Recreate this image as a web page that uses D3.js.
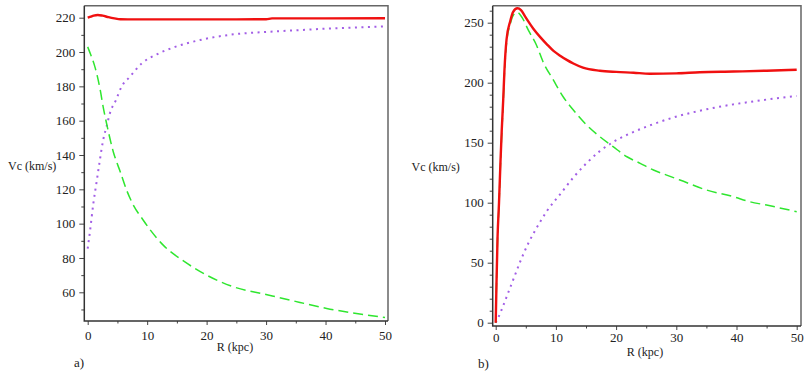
<!DOCTYPE html>
<html>
<head>
<meta charset="utf-8">
<script src="https://cdn.jsdelivr.net/npm/d3@7"></script>
<style>
  body { margin: 0; background: #fff; }
  svg { display: block; }
</style>
</head>
<body>
<svg id="chart" width="810" height="378"></svg>
<script>
'use strict';

var SERIF = '"Liberation Serif", "Times New Roman", serif';

// panel a)
var rTotalA = [0, 0.5, 1, 1.7, 2.5, 3.5, 4.5, 5.5, 8, 15, 25, 30, 31, 40, 50];
var vTotalA = [220.0, 220.6, 221.2, 221.6, 221.2, 220.3, 219.6, 219.1, 219.0, 219.0, 219.0, 219.1, 219.6, 219.6, 219.7];

var rGreenA = [0, 0.5, 1.2, 2.1, 2.6, 3.3, 4.3, 5.5, 6.55, 7.4, 9.35, 12.7, 16.35, 20, 24.5, 30, 35.7, 40.2, 44.6, 50];
var vGreenA = [203, 198.5, 191.5, 178, 168, 156.4, 141.9, 130, 119.5, 112.7, 102, 87.5, 77.7, 70, 63.2, 58.7, 54.1, 50.6, 48, 45.3];

var rPurpleA = [0, 0.4, 0.95, 1.5, 2, 2.6, 3.2, 3.75, 4.75, 5.7, 7.1, 9.1, 11.6, 14.7, 18.9, 24.5, 30.1, 35.7, 41.3, 50];
var vPurpleA = [85.5, 96, 111.8, 124.4, 136, 148.7, 157, 164.5, 172, 179.8, 185.6, 193.4, 198.6, 203, 207, 210.3, 211.7, 212.8, 213.8, 214.9];

// panel b)
var rTotalB = [0, 0.1, 0.3, 0.55, 0.8, 1.0, 1.25, 1.45, 1.8, 2.4, 2.9, 3.6, 4.2, 4.9, 6.25, 7.4, 8.5, 9.6, 10.7, 11.8, 12.9, 14.5, 17.3, 20, 22.9, 25.6, 30, 33.9, 39.5, 45, 50];
var vTotalB = [0, 25, 70, 100, 135, 160, 186, 210, 236, 251, 259, 262, 260.5, 255, 245, 238, 232, 226.5, 222.5, 219, 216, 212.5, 210, 209, 208.3, 207.5, 207.8, 208.7, 209.3, 210, 210.8];

var rGreenB = [0, 0.1, 0.3, 0.55, 0.8, 1.0, 1.25, 1.45, 1.8, 2.4, 2.9, 3.6, 4.3, 5.4, 6.8, 7.9, 9.57, 11.2, 12.9, 15.1, 17.3, 19.5, 21.8, 24, 26.2, 28.4, 30.6, 35, 39.5, 42.2, 45, 50];
var vGreenB = [0, 24, 68, 98, 132, 157, 183, 207, 233, 248.5, 256, 258.5, 255, 244, 231, 217, 202.3, 188.3, 177.2, 164.75, 155, 146.7, 138.3, 132.8, 127.25, 123, 118.9, 110.6, 105, 100.8, 98, 92.5];

var rPurpleB = [0, 0.5, 1, 2, 3, 4, 5.4, 6.8, 8.5, 10.7, 12.9, 15.1, 17.3, 19.5, 22.9, 26.2, 29.5, 32.9, 36.7, 42.2, 50];
var vPurpleB = [0, 5, 11, 24, 37, 50, 66, 79, 93, 107, 121, 133, 143, 150.5, 159, 165.5, 171, 175.5, 179.5, 184, 189];

// ticks
var xTicks = [0, 10, 20, 30, 40, 50];
var xMinor = [5, 15, 25, 35, 45];
var yTicksA = [60, 80, 100, 120, 140, 160, 180, 200, 220];
var yMinorA = [50, 70, 90, 110, 130, 150, 170, 190, 210];
var yTicksB = [0, 50, 100, 150, 200, 250];
var yMinorB = [10, 20, 30, 40, 60, 70, 80, 90, 110, 120, 130, 140, 160, 170, 180, 190, 210, 220, 230, 240, 260];

var panels = [
    {
        name: 'a)',
        frame: {left: 84.3, right: 388, top: 5.7, bottom: 321},
        xRange: [87.7, 385],
        yDomain: [60, 220], yRange: [292.3, 17.7],
        yTicks: yTicksA, yMinor: yMinorA, xPad: 5.5,
        ylab: {x: 8, y: 166}, xlab: {x: 235, y: 347}, tag: {x: 74, y: 362},
        total: [rTotalA, vTotalA], green: [rGreenA, vGreenA], purple: [rPurpleA, vPurpleA]
    },
    {
        name: 'b)',
        frame: {left: 492.7, right: 801, top: 5.7, bottom: 326},
        xRange: [495.7, 796.7],
        yDomain: [0, 250], yRange: [322.7, 22.7],
        yTicks: yTicksB, yMinor: yMinorB, xPad: 2.8,
        ylab: {x: 411.5, y: 167}, xlab: {x: 645, y: 352}, tag: {x: 478, y: 363.5},
        total: [rTotalB, vTotalB], green: [rGreenB, vGreenB], purple: [rPurpleB, vPurpleB]
    }
];

var svg = d3.select('#chart');

function styleAxis(s) {
    s.select('.domain').remove();
    s.attr('font-family', SERIF).attr('font-size', 13);
    s.selectAll('.tick line').attr('stroke', '#444');
    s.selectAll('.tick text').attr('fill', '#222');
}

panels.forEach(function (p) {
    var x = d3.scaleLinear().domain([0, 50]).range(p.xRange);
    var y = d3.scaleLinear().domain(p.yDomain).range(p.yRange);
    var f = p.frame;
    var g = svg.append('g');

    // top / right of the box
    g.append('path')
        .attr('d', 'M' + f.left + ',' + f.top + 'H' + f.right + 'V' + f.bottom)
        .attr('fill', 'none').attr('stroke', '#666').attr('stroke-width', 1.5);

    // minor ticks
    g.append('g').attr('transform', 'translate(' + f.left + ',0)')
        .call(d3.axisLeft(y).tickValues(p.yMinor).tickSize(3).tickFormat(''))
        .call(styleAxis);
    g.append('g').attr('transform', 'translate(0,' + f.bottom + ')')
        .call(d3.axisBottom(x).tickValues(xMinor).tickSize(2.5).tickFormat(''))
        .call(styleAxis);

    // major ticks
    g.append('g').attr('transform', 'translate(' + f.left + ',0)')
        .call(d3.axisLeft(y).tickValues(p.yTicks).tickSize(5).tickPadding(4))
        .call(styleAxis);
    g.append('g').attr('transform', 'translate(0,' + f.bottom + ')')
        .call(d3.axisBottom(x).tickValues(xTicks).tickSize(4).tickPadding(p.xPad))
        .call(styleAxis);

    // left / bottom axis lines
    g.append('path')
        .attr('d', 'M' + f.left + ',' + f.top + 'V' + f.bottom + 'H' + f.right)
        .attr('fill', 'none').attr('stroke', '#333').attr('stroke-width', 1.5);

    var line = d3.line()
        .x(function (d) { return x(d[0]); })
        .y(function (d) { return y(d[1]); })
        .curve(d3.curveMonotoneX);

    function pairs(s) { return d3.zip(s[0], s[1]); }

    g.append('path').datum(pairs(p.purple))
        .attr('d', line).attr('fill', 'none')
        .attr('stroke', '#a25ee6').attr('stroke-width', 2)
        .attr('stroke-dasharray', '2,4.5');

    g.append('path').datum(pairs(p.green))
        .attr('d', line).attr('fill', 'none')
        .attr('stroke', '#2fe62f').attr('stroke-width', 1.5)
        .attr('stroke-dasharray', '10,5');

    g.append('path').datum(pairs(p.total))
        .attr('d', line).attr('fill', 'none')
        .attr('stroke', '#f01010').attr('stroke-width', 2.4);

    var lab = g.append('g').attr('font-family', SERIF).attr('font-size', 12).attr('fill', '#222');
    lab.append('text')
        .attr('x', p.ylab.x).attr('y', p.ylab.y)
        .attr('dominant-baseline', 'central')
        .text('Vc (km/s)');
    lab.append('text')
        .attr('x', p.xlab.x).attr('y', p.xlab.y)
        .attr('text-anchor', 'middle').attr('dominant-baseline', 'central')
        .text('R (kpc)');
    lab.append('text')
        .attr('x', p.tag.x).attr('y', p.tag.y)
        .attr('dominant-baseline', 'central')
        .attr('font-size', 13)
        .text(p.name);
});
</script>
</body>
</html>
